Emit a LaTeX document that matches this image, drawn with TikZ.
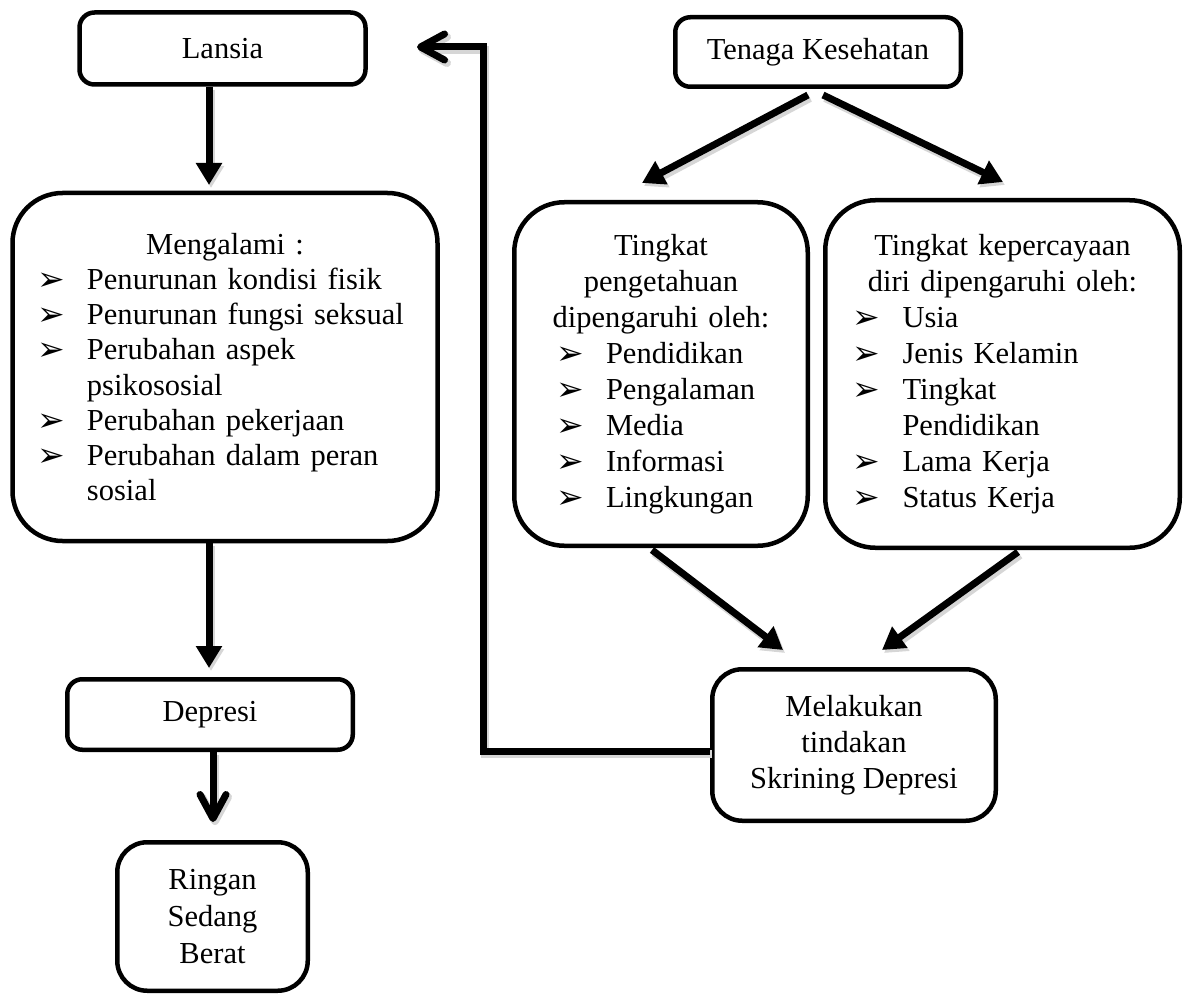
\documentclass[tikz,border=0pt]{standalone}
\usepackage{fontspec}
\setmainfont{Liberation Serif}
\newfontfamily\dvs{DejaVu Sans}
\usetikzlibrary{arrows.meta,calc}
\newcommand\bul{{\dvs\fontsize{33}{33}\selectfont\raisebox{-1pt}{➢}}}
\newcommand\hd[1]{\noindent\makebox[\linewidth][c]{#1}\par}
\newcommand\bitem[1]{\noindent\makebox[47pt][l]{\hspace*{-3pt}\bul}\mbox{#1}\par}
\newcommand\bcont[1]{\noindent\hspace*{47pt}\mbox{#1}\par}
\begin{document}
\begin{tikzpicture}[x=1pt,y=-1pt,
  box/.style={draw, line width=4.5pt, rounded corners=#1, inner sep=0pt,
    font=\fontsize{30.5}{36}\selectfont},
  box/.default=15pt,
  shd/.style={preaction={draw=black!16, line width=8pt, transform canvas={shift={(2pt,-3pt)}}}},
  arr/.style={line width=7pt, -{Triangle[width=25pt,length=22pt]}},
  barb/.style={line width=7pt, -{Straight Barb[length=24pt,width=26pt,round]}}]
\useasboundingbox (0,0) rectangle (1186,995);

% boxes
\node[box, minimum width=286pt, minimum height=72pt] (lansia) at (222.5,48.5) {Lansia};
\node[box=50pt, minimum width=425pt, minimum height=348pt, text width=370pt,
  font=\fontsize{30.5}{35.2}\selectfont] (meng) at (225,367) {%
  \hd{Mengalami :}
  \bitem{Penurunan kondisi fisik}
  \bitem{Penurunan fungsi seksual}
  \bitem{Perubahan aspek}
  \bcont{psikososial}
  \bitem{Perubahan pekerjaan}
  \bitem{Perubahan dalam peran}
  \bcont{sosial}};
\node[box, minimum width=285.5pt, minimum height=70.5pt] (dep) at (210,714.5) {Depresi};
\node[box=30pt, minimum width=190.5pt, minimum height=148.5pt, align=center,
  font=\fontsize{30.5}{37}\selectfont] (rsb) at (212.5,916.5) {Ringan\\Sedang\\Berat};
\node[box, minimum width=285.5pt, minimum height=69.5pt] (ten) at (818,52) {Tenaga Kesehatan};
\node[box=50pt, minimum width=293.5pt, minimum height=343.5pt, text width=204pt] (peng) at (661,374) {%
  \hd{Tingkat}
  \hd{pengetahuan}
  \hd{dipengaruhi oleh:}
  \bitem{Pendidikan}
  \bitem{Pengalaman}
  \bitem{Media}
  \bitem{Informasi}
  \bitem{Lingkungan}};
\node[box=50pt, minimum width=354.5pt, minimum height=347.5pt, text width=294pt] (perc) at (1002.5,374) {%
  \hd{Tingkat kepercayaan}
  \hd{diri dipengaruhi oleh:}
  \bitem{Usia}
  \bitem{Jenis Kelamin}
  \bitem{Tingkat}
  \bcont{Pendidikan}
  \bitem{Lama Kerja}
  \bitem{Status Kerja}};
\node[box=30pt, minimum width=283.5pt, minimum height=151.5pt, align=center] (mel) at (854,745)
  {Melakukan\\tindakan\\Skrining Depresi};

% free ends
\coordinate (a1) at (209,185);
\coordinate (a2) at (209,668);
\coordinate (a3) at (213,822);
\coordinate (p1) at (642,183);
\coordinate (p2) at (1003,182);
\coordinate (m1) at (783,650);
\coordinate (m2) at (882,650);
\coordinate (fb1) at (483,751);
\coordinate (fb2) at (483,47);
\coordinate (fbtip) at (417,47);

% connectors
\draw[arr, shd] (lansia.south -| a1) -- (a1);
\draw[arr, shd] (meng.south -| a2) -- (a2);
\draw[barb, shd] (dep.south -| a3) -- (a3);
\draw[arr, shd] ($(ten.south)+(-10,6)$) -- (p1);
\draw[arr, shd] ($(ten.south)+(5,6)$) -- (p2);
\draw[arr, shd] ($(peng.south)+(-9,2)$) -- (m1);
\draw[arr, shd] ($(perc.south)+(15.5,2)$) -- (m2);
\draw[barb, shd] (mel.west |- fb1) -- (fb1) -- (fb2) -- (fbtip);
\end{tikzpicture}
\end{document}
